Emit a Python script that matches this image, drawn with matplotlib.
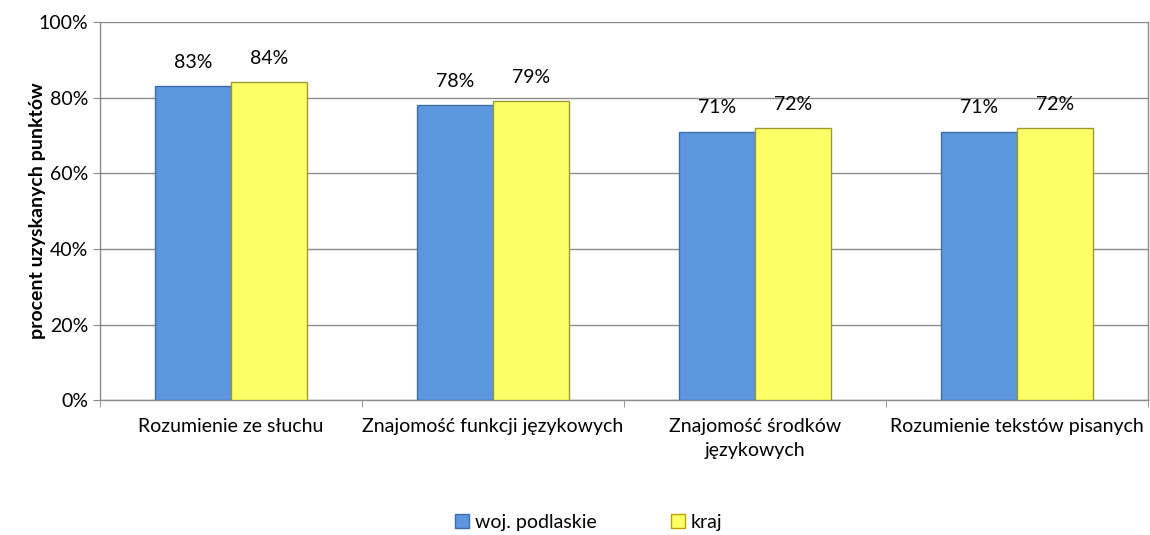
import numpy as np
import matplotlib.pyplot as plt
from matplotlib.patches import Patch

categories = ["Rozumienie ze słuchu", "Znajomość funkcji językowych",
              "Znajomość środków\njęzykowych", "Rozumienie tekstów pisanych"]
podlaskie = [83, 78, 71, 71]
kraj = [84, 79, 72, 72]
series_names = ["woj. podlaskie", "kraj"]

plt.rcParams['font.family'] = ['Lato', 'DejaVu Sans']

fig = plt.figure(figsize=(11.5, 5.35), dpi=100)
ax = fig.add_axes([0.087, 0.252, 0.911, 0.707])

x = np.arange(len(categories))
w = 0.29
blue = "#5b96de"
yellow = "#ffff66"
fs = 14
b1 = ax.bar(x - w / 2, podlaskie, w, color=blue, edgecolor="#3e6ea8", linewidth=1, zorder=3)
b2 = ax.bar(x + w / 2, kraj, w, color=yellow, edgecolor="#9a9a30", linewidth=1, zorder=3)

for bars, vals in ((b1, podlaskie), (b2, kraj)):
    for r, v in zip(bars, vals):
        ax.annotate(f"{v}%", (r.get_x() + r.get_width() / 2, v),
                    xytext=(0, 11), textcoords="offset points",
                    ha="center", va="bottom", fontsize=fs)

ax.set_xlim(-0.5, len(categories) - 0.5)
ax.set_ylim(0, 100)
ax.set_yticks(range(0, 101, 20))
ax.set_yticklabels([f"{t}%" for t in range(0, 101, 20)], fontsize=fs)
ax.set_xticks(x)
ax.set_xticklabels(categories, fontsize=fs, linespacing=1.5)
ax.set_xticks(np.arange(-0.5, len(categories), 1), minor=True)
ax.tick_params(axis="x", which="major", length=0, pad=13)
ax.tick_params(axis="x", which="minor", length=5, color="#888888", direction="out")
ax.tick_params(axis="y", length=5, color="#888888", direction="out")
ax.grid(axis="y", color="#8c8c8c", linewidth=1, zorder=0)
ax.spines["top"].set_visible(False)
for s in ["left", "bottom", "right"]:
    ax.spines[s].set_color("#8c8c8c")
    ax.spines[s].set_linewidth(1)

ax.set_ylabel("procent uzyskanych punktów", fontsize=14, fontweight="bold")
ax.yaxis.set_label_coords(-0.052, 0.5)

handles = [Patch(facecolor=blue, edgecolor="#3e6ea8"), Patch(facecolor=yellow, edgecolor="#b8a000")]
fig.legend(handles, series_names, loc="center", bbox_to_anchor=(0.512, 0.024), ncol=2,
           frameon=False, fontsize=fs, handlelength=0.7, handleheight=0.7,
           handletextpad=0.3, columnspacing=3.85)

fig.savefig("out.png", dpi=100)
